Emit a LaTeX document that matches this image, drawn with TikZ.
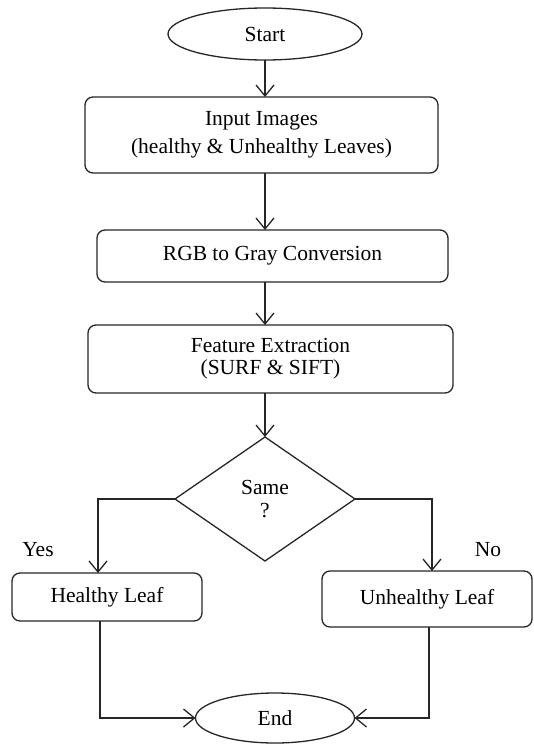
\documentclass[tikz,border=0pt]{standalone}
\usepackage{fontspec}
\setmainfont{Liberation Serif}
\usetikzlibrary{shapes.geometric,arrows.meta}
\begin{document}
\begin{tikzpicture}[x=1pt,y=-1pt,
  font=\fontsize{21.5}{24}\selectfont,
  every node/.style={inner sep=0pt, outer sep=0pt, line width=1.3pt, align=center},
  proc/.style={draw=black!85, rounded corners=8pt},
  term/.style={draw=black!85, ellipse},
  dec/.style={draw=black!85, diamond, aspect=1.45},
  lbl/.style={},
  arr/.style={draw=black!85, line width=1.3pt, -{Straight Barb[length=11pt,width=18pt]}},
  ln/.style={draw=black!85, line width=1.3pt}]
\useasboundingbox (0,0) rectangle (533,744);
% nodes
\node[term, minimum width=194pt, minimum height=52pt] (start) at (265,34) {Start};
\node[proc, minimum width=353pt, minimum height=76pt] (inp) at (261.5,135) {Input Images\\[4pt](healthy \& Unhealthy Leaves)};
\node[proc, minimum width=351pt, minimum height=52pt] (rgb) at (272.5,256) {RGB to Gray Conversion};
\node[proc, minimum width=365pt, minimum height=68pt] (feat) at (270.5,359) {Feature Extraction\\[-2pt](SURF \& SIFT)};
\node[dec, minimum width=180pt, minimum height=124pt] (same) at (265,499) {Same\\[-1pt]?};
\node[proc, minimum width=190pt, minimum height=48pt] (hl) at (107,597) {Healthy Leaf};
\node[proc, minimum width=210pt, minimum height=56pt] (ul) at (427,599) {Unhealthy Leaf};
\node[term, minimum width=159pt, minimum height=50pt] (end) at (275,718) {End};
\node[lbl] (yes) at (38,550) {Yes};
\node[lbl] (no) at (488,550) {No};
% connectors
\draw[arr] (start.south) -- (start.south |- inp.north);
\draw[arr] (inp.south -| start) -- (rgb.north -| start);
\draw[arr] (rgb.south -| start) -- (feat.north -| start);
\draw[arr] (feat.south -| same) -- (same.north);
\draw[arr] (same.west) -| ([xshift=-9pt]hl.north);
\draw[arr] (same.east) -| ([xshift=5pt]ul.north);
\draw[arr] ([xshift=-7pt]hl.south) |- (end.west);
\draw[arr] ([xshift=2pt]ul.south) |- (end.east);
\end{tikzpicture}
\end{document}
